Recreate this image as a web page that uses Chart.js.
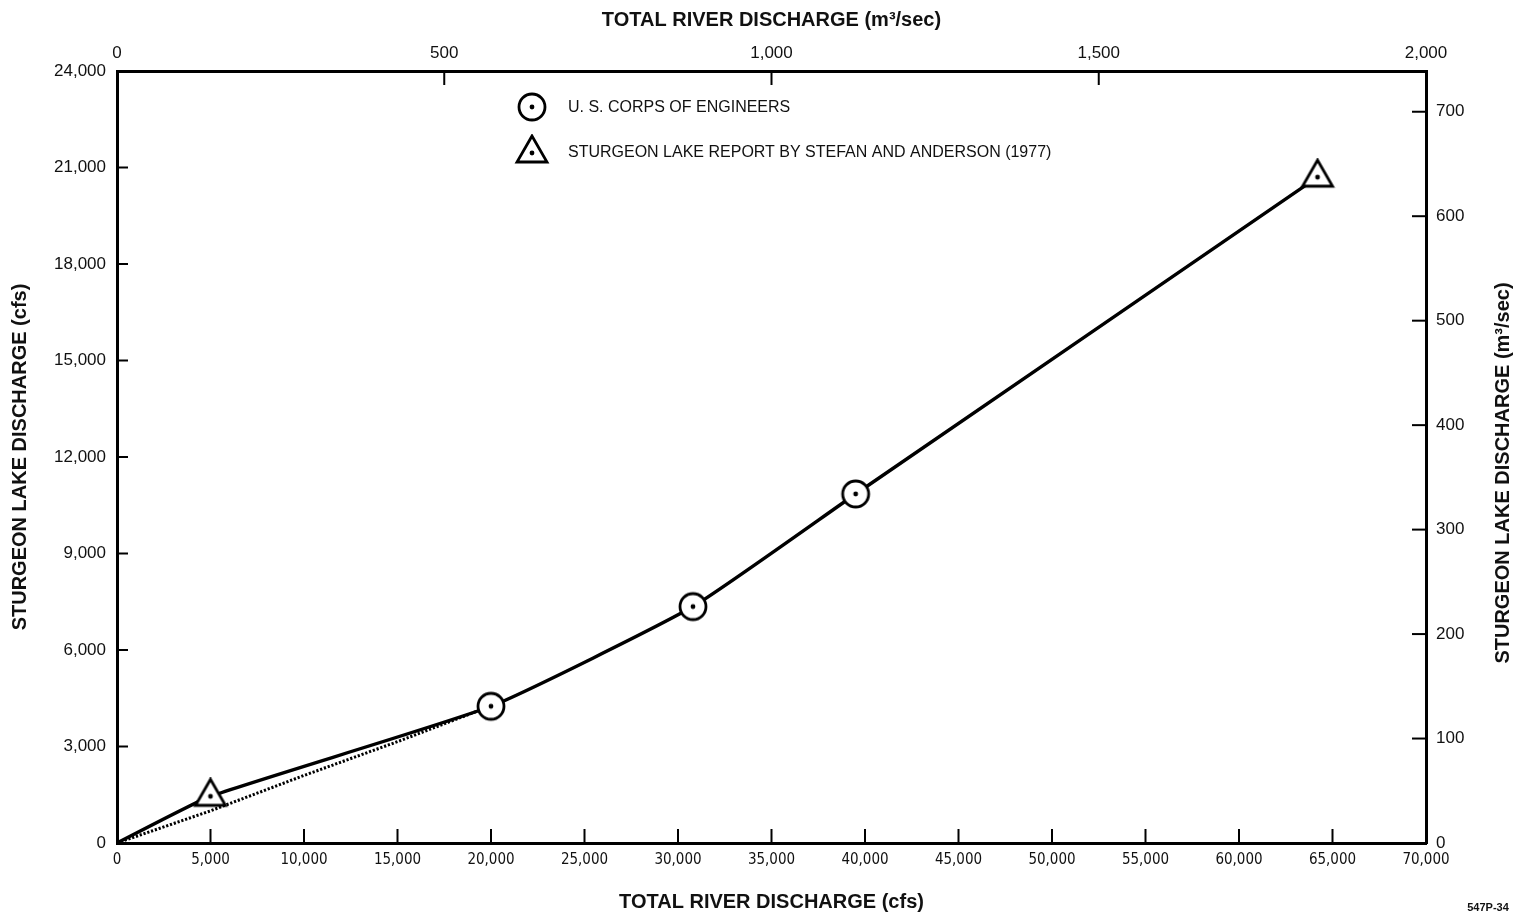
<!DOCTYPE html>
<html>
<head>
<meta charset="utf-8">
<title>Sturgeon Lake discharge</title>
<script src="https://cdn.jsdelivr.net/npm/chart.js@4.4.1/dist/chart.umd.min.js"></script>
<style>
  html, body { margin: 0; padding: 0; background: #fff; }
  #wrap { width: 1518px; height: 919px; position: relative; }
</style>
</head>
<body>
<div id="wrap"><canvas id="chart"></canvas></div>
<script>
// rating curve (cfs)
const curveX = [0, 5000, 20000, 30800, 39500, 64200];
const curveY = [0, 1450, 4250, 7350, 10850, 20700];
// dotted branch near the origin
const dottedX = [0, 5000, 10000, 15000, 19500];
const dottedY = [0, 1000, 2100, 3150, 4150];
// U.S. Corps of Engineers points
const corpsX = [20000, 30800, 39500];
const corpsY = [4250, 7350, 10850];
// Stefan and Anderson (1977) points
const stefanX = [5000, 64200];
const stefanY = [1450, 20700];

const xTicksCfs = { min: 0, max: 70000, step: 5000 };
const yTicksCfs = { min: 0, max: 24000, step: 3000 };
const xTicksMetric = { min: 0, max: 2000, step: 500 };
const yTicksMetric = { min: 0, max: 739, step: 100 };

const corpsLabel = "U. S. CORPS OF ENGINEERS";
const stefanLabel = "STURGEON LAKE REPORT BY STEFAN AND ANDERSON (1977)";
const figId = "547P-34";

function pts(xs, ys) {
  return xs.map((x, i) => ({ x: x, y: ys[i] }));
}

function circleMarker() {
  const c = document.createElement("canvas");
  c.width = 34; c.height = 34;
  const g = c.getContext("2d");
  g.fillStyle = "#fff";
  g.strokeStyle = "#000";
  g.lineWidth = 2.8;
  g.beginPath(); g.arc(17, 17, 13, 0, Math.PI * 2); g.fill(); g.stroke();
  g.fillStyle = "#000";
  g.beginPath(); g.arc(17, 17, 2.4, 0, Math.PI * 2); g.fill();
  return c;
}

function triangleMarker() {
  const c = document.createElement("canvas");
  c.width = 36; c.height = 38;
  const g = c.getContext("2d");
  g.fillStyle = "#fff";
  g.strokeStyle = "#000";
  g.lineWidth = 2.8;
  g.lineJoin = "miter";
  g.beginPath(); g.moveTo(18, 2); g.lineTo(3, 28); g.lineTo(33, 28); g.closePath();
  g.fill(); g.stroke();
  g.fillStyle = "#000";
  g.beginPath(); g.arc(18, 19, 2.4, 0, Math.PI * 2); g.fill();
  return c;
}

const circleImg = circleMarker();
const triImg = triangleMarker();

// inward tick marks, legend, right-hand title and figure number
const extras = {
  id: "extras",
  afterDraw(chart) {
    const ctx = chart.ctx;
    const a = chart.chartArea;
    const s = chart.scales;
    ctx.save();
    ctx.strokeStyle = "#000";
    ctx.lineWidth = 2;
    s.x.ticks.forEach((t, i) => {
      const px = s.x.getPixelForTick(i);
      ctx.beginPath(); ctx.moveTo(px, a.bottom); ctx.lineTo(px, a.bottom - 14); ctx.stroke();
    });
    s.x2.ticks.forEach((t, i) => {
      const px = s.x2.getPixelForTick(i);
      ctx.beginPath(); ctx.moveTo(px, a.top); ctx.lineTo(px, a.top + 14); ctx.stroke();
    });
    s.y.ticks.forEach((t, i) => {
      const py = s.y.getPixelForTick(i);
      ctx.beginPath(); ctx.moveTo(a.left, py); ctx.lineTo(a.left + 11, py); ctx.stroke();
    });
    s.y2.ticks.forEach((t, i) => {
      const py = s.y2.getPixelForTick(i);
      ctx.beginPath(); ctx.moveTo(a.right, py); ctx.lineTo(a.right - 14, py); ctx.stroke();
    });

    // legend inside the plot
    const lx = a.left + 415;
    ctx.drawImage(circleImg, lx - 17, a.top + 36 - 17);
    ctx.drawImage(triImg, lx - 18, a.top + 82 - 19);
    ctx.fillStyle = "#111";
    ctx.font = "16px 'Liberation Sans', Arial, sans-serif";
    ctx.textAlign = "left";
    ctx.textBaseline = "middle";
    ctx.fillText(corpsLabel, lx + 36, a.top + 37);
    ctx.fillText(stefanLabel, lx + 36, a.top + 82);

    // right axis title, reading bottom to top
    ctx.font = "bold 20px 'Liberation Sans', Arial, sans-serif";
    ctx.textAlign = "center";
    ctx.translate(a.right + 77, (a.top + a.bottom) / 2 + 16);
    ctx.rotate(-Math.PI / 2);
    ctx.fillText("STURGEON LAKE DISCHARGE (m\u00B3/sec)", 0, 0);
    ctx.restore();

    ctx.save();
    ctx.fillStyle = "#111";
    ctx.font = "bold 11px 'Liberation Sans', Arial, sans-serif";
    ctx.textAlign = "center";
    ctx.textBaseline = "middle";
    ctx.fillText(figId, a.right + 62, a.bottom + 65);
    ctx.restore();
  },
};

const tickFont = { family: "'Liberation Sans', Arial, sans-serif", size: 17 };
const titleFont = { family: "'Liberation Sans', Arial, sans-serif", size: 20, weight: "bold" };
const noGrid = { display: true, drawOnChartArea: false, drawTicks: false };
const axisBorder = { display: true, color: "#000", width: 3 };

new Chart(document.getElementById("chart"), {
  type: "scatter",
  data: {
    datasets: [
      {
        label: "curve",
        data: pts(curveX, curveY),
        showLine: true,
        borderColor: "#000",
        borderWidth: 3.4,
        pointRadius: 0,
        tension: 0.15,
        order: 3,
      },
      {
        label: "dotted",
        data: pts(dottedX, dottedY),
        showLine: true,
        borderColor: "#000",
        borderWidth: 3,
        borderDash: [2.2, 1.8],
        pointRadius: 0,
        tension: 0,
        order: 2,
      },
      {
        label: corpsLabel,
        data: pts(corpsX, corpsY),
        pointStyle: circleImg,
        showLine: false,
        order: 0,
      },
      {
        label: stefanLabel,
        data: pts(stefanX, stefanY),
        pointStyle: triImg,
        showLine: false,
        order: 0,
      },
    ],
  },
  options: {
    responsive: true,
    maintainAspectRatio: false,
    animation: false,
    layout: { padding: 0 },
    plugins: { legend: { display: false }, tooltip: { enabled: false } },
    scales: {
      x: {
        type: "linear",
        position: "bottom",
        min: xTicksCfs.min,
        max: xTicksCfs.max,
        grid: noGrid,
        border: axisBorder,
        ticks: { stepSize: xTicksCfs.step, padding: 8, color: "#111", maxRotation: 0,
          font: { family: "'DejaVu Sans Condensed', 'DejaVu Sans', sans-serif", size: 15 } },
        title: { display: true, text: "TOTAL RIVER DISCHARGE (cfs)", color: "#111", font: titleFont,
          padding: { top: 0, bottom: 5 } },
        afterFit(sc) { sc.height = 76; },
      },
      x2: {
        type: "linear",
        position: "top",
        min: xTicksMetric.min,
        max: xTicksMetric.max,
        grid: noGrid,
        border: axisBorder,
        ticks: { stepSize: xTicksMetric.step, padding: 7, color: "#111", maxRotation: 0, font: tickFont },
        title: { display: true, text: "TOTAL RIVER DISCHARGE (m\u00B3/sec)", color: "#111", font: titleFont,
          padding: { top: 8, bottom: 0 } },
        afterFit(sc) { sc.height = 71; },
      },
      y: {
        type: "linear",
        position: "left",
        min: yTicksCfs.min,
        max: yTicksCfs.max,
        grid: noGrid,
        border: axisBorder,
        ticks: { stepSize: yTicksCfs.step, padding: 11, color: "#111", font: tickFont },
        title: { display: true, text: "STURGEON LAKE DISCHARGE (cfs)", color: "#111", font: titleFont,
          padding: { top: 8, bottom: 0 } },
        afterFit(sc) { sc.width = 117; },
      },
      y2: {
        type: "linear",
        position: "right",
        min: yTicksMetric.min,
        max: yTicksMetric.max,
        grid: noGrid,
        border: axisBorder,
        ticks: { stepSize: yTicksMetric.step, includeBounds: false, padding: 10, color: "#111", font: tickFont },
        afterFit(sc) { sc.width = 92; },
      },
    },
  },
  plugins: [extras],
});
</script>
</body>
</html>
